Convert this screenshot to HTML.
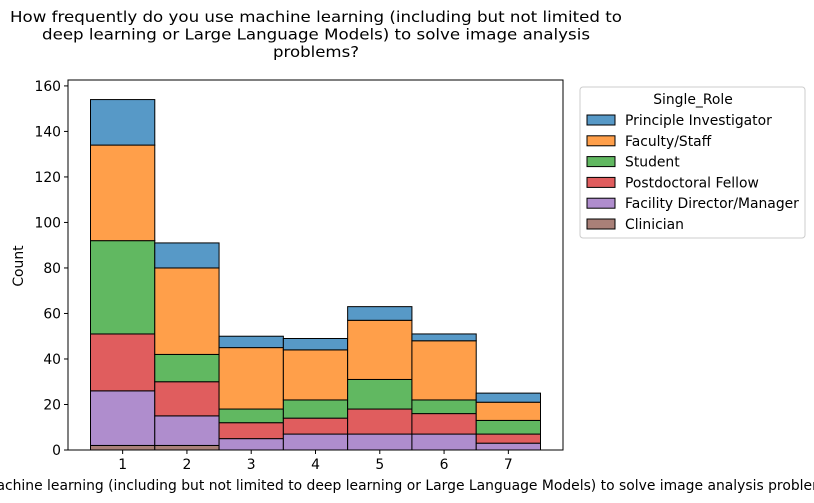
<!DOCTYPE html>
<html><head><meta charset="utf-8">
<style>
body{margin:0;background:#fff;width:814px;height:503px;overflow:hidden;font-family:"DejaVu Sans","Liberation Sans",sans-serif;}
svg{display:block}
text{font-family:"DejaVu Sans","Liberation Sans",sans-serif;fill:#000}
</style></head><body>
<svg id="chart" width="814" height="503">
<g>
<text x="316" y="22" font-size="15.5" text-anchor="middle" textLength="612" lengthAdjust="spacingAndGlyphs">How frequently do you use machine learning (including but not limited to</text>
<text x="316" y="39.5" font-size="15.5" text-anchor="middle" textLength="548" lengthAdjust="spacingAndGlyphs">deep learning or Large Language Models) to solve image analysis</text>
<text x="316" y="57" font-size="15.5" text-anchor="middle" textLength="86" lengthAdjust="spacingAndGlyphs">problems?</text>
</g>
<g id="bars"></g>
<rect x="68" y="80" width="495" height="370" fill="none" stroke="#000" stroke-width="1"/>
<g id="xticks"></g>
<g id="yticks"></g>
<text x="23" y="266" font-size="13.9" text-anchor="middle" transform="rotate(-90 23 266)">Count</text>
<text x="316" y="490" font-size="13.9" text-anchor="middle">How frequently do you use machine learning (including but not limited to deep learning or Large Language Models) to solve image analysis problems?</text>
<g id="legend">
<rect x="580" y="87" width="225" height="151" rx="3" fill="#fff" stroke="#ccc"/>
<text x="693" y="104" font-size="13.9" text-anchor="middle">Single_Role</text>
</g>
</svg>
<script>
const categories = [1,2,3,4,5,6,7];
const roles = ["Principle Investigator","Faculty/Staff","Student","Postdoctoral Fellow","Facility Director/Manager","Clinician"];
const colors = ["#5799c7","#ff9f4a","#61b861","#e05d5e","#af8dcd","#a98078"];
const clinician = [2,2,0,0,0,0,0];
const facility = [24,13,5,7,7,7,3];
const postdoc = [25,15,7,7,11,9,4];
const student = [41,12,6,8,13,6,6];
const faculty = [42,38,27,22,26,26,8];
const pi = [20,11,5,5,6,3,4];
const yTicks = [0,20,40,60,80,100,120,140,160];

const NS="http://www.w3.org/2000/svg";
const X0=68,X1=563,Y0=450,Y1=80;
const xmin=0.15,xmax=7.85,ymax=162.6;
const xs=v=>X0+(v-xmin)/(xmax-xmin)*(X1-X0);
const ys=v=>Y0-v/ymax*(Y0-Y1);
function mk(tag,attrs,parent){const e=document.createElementNS(NS,tag);for(const k in attrs)e.setAttribute(k,attrs[k]);parent.appendChild(e);return e;}
const bars=document.getElementById('bars');
const stackOrder=[clinician,facility,postdoc,student,faculty,pi];
const stackColors=[colors[5],colors[4],colors[3],colors[2],colors[1],colors[0]];
const stackNames=["clinician","facility","postdoc","student","faculty","pi"];
categories.forEach((c,i)=>{
  let base=0;
  stackOrder.forEach((s,j)=>{
    const v=s[i];
    const r=mk('rect',{x:xs(c-0.5),width:xs(c+0.5)-xs(c-0.5),y:ys(base+v),height:ys(base)-ys(base+v),fill:stackColors[j],stroke:'#000','stroke-width':1},bars);
    
    
    base+=v;
  });
});
const xt=document.getElementById('xticks');
categories.forEach(c=>{
  const l=mk('line',{x1:xs(c),x2:xs(c),y1:Y0,y2:Y0+4,stroke:'#000'},xt);
  
  
  const t=mk('text',{x:xs(c),y:Y0+19,'font-size':13.9,'text-anchor':'middle'},xt);t.textContent=c;
  
  
});
const yt=document.getElementById('yticks');
yTicks.forEach(v=>{
  const l=mk('line',{x1:X0-4,x2:X0,y1:ys(v),y2:ys(v),stroke:'#000'},yt);
  
  
  const t=mk('text',{x:X0-7,y:ys(v)+5,'font-size':13.9,'text-anchor':'end'},yt);t.textContent=v;
  
  
});
const lg=document.getElementById('legend');
roles.forEach((r,i)=>{
  const y=120+i*20.8;
  const sw=mk('rect',{x:587,y:y-5,width:28,height:10,fill:colors[i],stroke:'#000'},lg);
  
  
  const t=mk('text',{x:625,y:y+5,'font-size':13.9},lg);t.textContent=r;
  
  
});
</script>
</body></html>
